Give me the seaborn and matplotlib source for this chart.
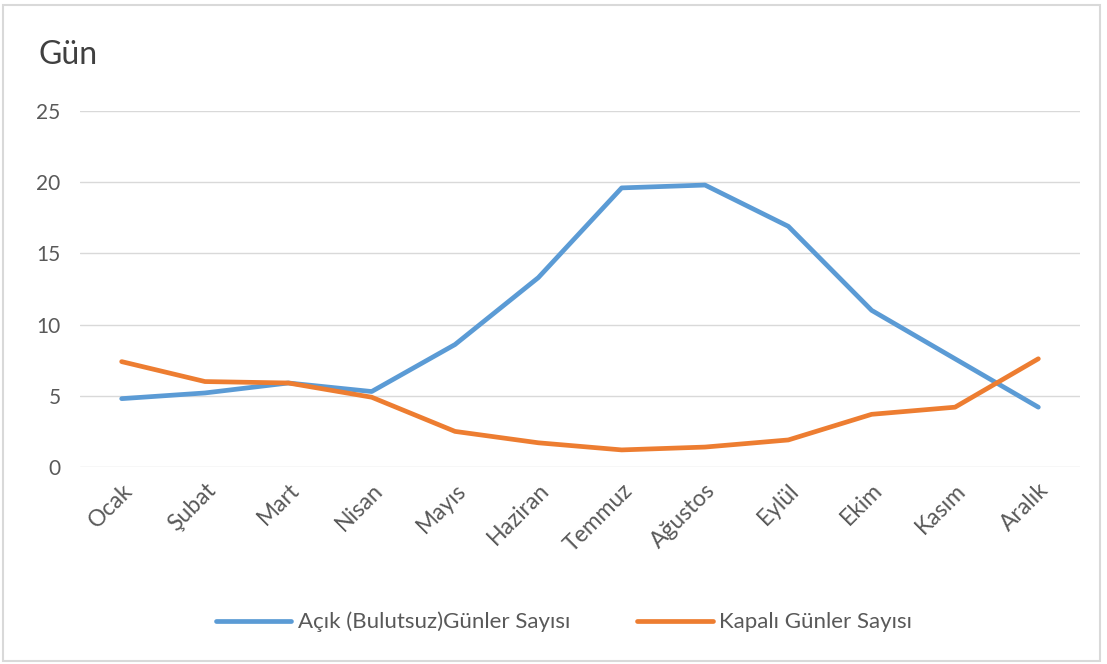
import matplotlib
matplotlib.use("Agg")
import matplotlib.pyplot as plt
import seaborn as sns
import pandas as pd
from matplotlib.patches import Rectangle
from matplotlib.lines import Line2D

months = ["Ocak", "Şubat", "Mart", "Nisan", "Mayıs", "Haziran", "Temmuz",
          "Ağustos", "Eylül", "Ekim", "Kasım", "Aralık"]
acik = [4.8, 5.2, 5.9, 5.3, 8.6, 13.3, 19.6, 19.8, 16.9, 11.0, 7.6, 4.2]
kapali = [7.4, 6.0, 5.9, 4.9, 2.5, 1.7, 1.2, 1.4, 1.9, 3.7, 4.2, 7.6]
series_names = ["Açık (Bulutsuz)Günler Sayısı", "Kapalı Günler Sayısı"]
yticks = [0, 5, 10, 15, 20, 25]

sns.set_theme(style="white")
plt.rcParams['font.family'] = ['Lato', 'DejaVu Sans']

df = pd.DataFrame({
    "Ay": months * 2,
    "x": list(range(len(months))) * 2,
    "Gün": acik + kapali,
    "Seri": [series_names[0]] * len(months) + [series_names[1]] * len(months),
})

fig = plt.figure(figsize=(11.07, 6.64), dpi=100)
ax = fig.add_axes([80 / 1107, 1 - 467 / 664, 1000 / 1107, 356 / 664])

sns.lineplot(data=df, x="x", y="Gün", hue="Seri",
             palette={series_names[0]: "#5B9BD5", series_names[1]: "#ED7D31"},
             linewidth=3.4, sort=False, ax=ax, legend=False)
for l in ax.lines:
    l.set_solid_capstyle("round")
    l.set_solid_joinstyle("round")

ax.set_xlim(-0.5, len(months) - 0.5)
ax.set_ylim(0, 25)
ax.set_yticks(yticks)
ax.set_xticks(range(len(months)))
ax.set_xticklabels(months, rotation=45, ha="right", rotation_mode="anchor")
ax.tick_params(axis="both", colors="#595959", length=0)
ax.tick_params(axis="x", pad=9, labelsize=16.5)
ax.tick_params(axis="y", pad=14, labelsize=15)
ax.grid(axis="y", color="#D9D9D9", linewidth=1)
ax.set_axisbelow(True)
for s in ax.spines.values():
    s.set_visible(False)
ax.set_xlabel("")
ax.set_ylabel("")

fig.text(38 / 1107, 1 - 55 / 664, "Gün", fontsize=23, color="#404040",
         va="center", ha="left")

handles = [Line2D([0], [0], color="#5B9BD5", lw=3.4, solid_capstyle="round"),
           Line2D([0], [0], color="#ED7D31", lw=3.4, solid_capstyle="round")]
fig.legend(handles, series_names, loc="center", bbox_to_anchor=(564 / 1107, 1 - 622 / 664),
           ncol=2, frameon=False, fontsize=16, labelcolor="#595959",
           handlelength=3.4, handletextpad=0.3, columnspacing=3.0)

fig.patches.append(Rectangle((3 / 1107, 3 / 664), 1097 / 1107, 656 / 664,
                             transform=fig.transFigure, fill=False,
                             edgecolor="#D9D9D9", linewidth=1.5))

fig.savefig("out.png", dpi=100)
